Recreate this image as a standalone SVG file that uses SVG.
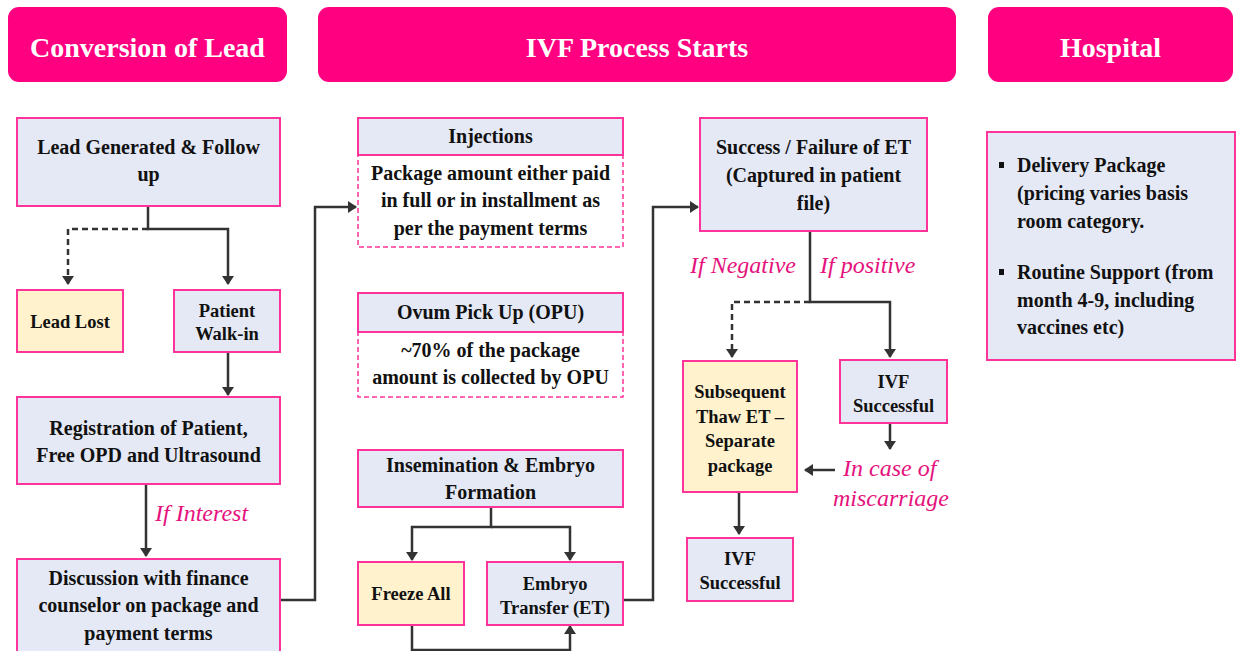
<svg xmlns="http://www.w3.org/2000/svg" width="1236" height="651" viewBox="0 0 1236 651">
<defs>
<marker id="ah" viewBox="0 0 9 12" markerWidth="9" markerHeight="12" refX="8" refY="6" orient="auto" markerUnits="userSpaceOnUse">
<path d="M0,0 L9,6 L0,12 z" fill="#333"/>
</marker>
</defs>
<rect width="1236" height="651" fill="#fff"/>

<g id="headers" fill="#FF0080">
<g id="hdr-conversion">
<rect x="8" y="7" width="279" height="75" rx="11"/>
<text style="font-family:'Liberation Serif','Times New Roman',serif" font-weight="bold" font-size="28" text-anchor="middle" fill="#fff" x="147.5" y="57">Conversion of Lead</text>
</g>
<g id="hdr-ivf">
<rect x="318" y="7" width="638" height="75" rx="11"/>
<text style="font-family:'Liberation Serif','Times New Roman',serif" font-weight="bold" font-size="28" text-anchor="middle" fill="#fff" x="637" y="57">IVF Process Starts</text>
</g>
<g id="hdr-hospital">
<rect x="988" y="7" width="245" height="75" rx="11"/>
<text style="font-family:'Liberation Serif','Times New Roman',serif" font-weight="bold" font-size="28" text-anchor="middle" fill="#fff" x="1110.5" y="57">Hospital</text>
</g>
</g>

<g id="connectors" fill="none" stroke="#333" stroke-width="2.5">
<path d="M148,206 V229 H228 V284" marker-end="url(#ah)"/>
<path d="M148,229 H68 V284" stroke-dasharray="6 4" marker-end="url(#ah)"/>
<path d="M228,352 V395" marker-end="url(#ah)"/>
<path d="M146,484 V556" marker-end="url(#ah)"/>
<path d="M280,600 H315 V207 H356" marker-end="url(#ah)"/>
<path d="M491,507 V527 H412 V560" marker-end="url(#ah)"/>
<path d="M491,527 H570 V560" marker-end="url(#ah)"/>
<path d="M412,625 V650 H570 V626" marker-end="url(#ah)"/>
<path d="M623,600 H653 V207 H698" marker-end="url(#ah)"/>
<path d="M810,231 V302 H890 V357" marker-end="url(#ah)"/>
<path d="M810,302 H732 V357" stroke-dasharray="6 4" marker-end="url(#ah)"/>
<path d="M890,423 V449" marker-end="url(#ah)"/>
<path d="M835,470 H805" marker-end="url(#ah)"/>
<path d="M739,492 V534" marker-end="url(#ah)"/>
</g>

<g id="labels" fill="#E5127D" font-style="italic" font-size="24">
<text style="font-family:'Liberation Serif','Times New Roman',serif" x="155" y="521">If Interest</text>
<text style="font-family:'Liberation Serif','Times New Roman',serif" x="690" y="273">If Negative</text>
<text style="font-family:'Liberation Serif','Times New Roman',serif" x="820" y="273">If positive</text>
<text style="font-family:'Liberation Serif','Times New Roman',serif" x="843" y="476">In case of</text>
<text style="font-family:'Liberation Serif','Times New Roman',serif" x="833" y="506">miscarriage</text>
</g>

<g id="nodes" stroke-width="2" font-weight="bold" text-anchor="middle">
<g id="lead-generated" font-size="20">
<rect x="17" y="118" width="263" height="88" fill="#E5E9F6" stroke="#FF3399"/>
<text style="font-family:'Liberation Serif','Times New Roman',serif" fill="#111" x="148.5" y="154">Lead Generated &amp; Follow</text>
<text style="font-family:'Liberation Serif','Times New Roman',serif" fill="#111" x="148.5" y="181">up</text>
</g>
<g id="lead-lost" font-size="18.5">
<rect x="17" y="290" width="106" height="62" fill="#FFF2CC" stroke="#FF3399"/>
<text style="font-family:'Liberation Serif','Times New Roman',serif" fill="#111" x="70" y="328">Lead Lost</text>
</g>
<g id="patient-walkin" font-size="18.5">
<rect x="174" y="290" width="106" height="62" fill="#E5E9F6" stroke="#FF3399"/>
<text style="font-family:'Liberation Serif','Times New Roman',serif" fill="#111" x="227" y="316.5">Patient</text>
<text style="font-family:'Liberation Serif','Times New Roman',serif" fill="#111" x="227" y="339.5">Walk-in</text>
</g>
<g id="registration" font-size="20">
<rect x="17" y="397" width="263" height="87" fill="#E5E9F6" stroke="#FF3399"/>
<text style="font-family:'Liberation Serif','Times New Roman',serif" fill="#111" x="148.5" y="435">Registration of Patient,</text>
<text style="font-family:'Liberation Serif','Times New Roman',serif" fill="#111" x="148.5" y="462">Free OPD and Ultrasound</text>
</g>
<g id="discussion" font-size="20">
<rect x="17" y="559" width="263" height="110" fill="#E5E9F6" stroke="#FF3399"/>
<text style="font-family:'Liberation Serif','Times New Roman',serif" fill="#111" x="148.5" y="585">Discussion with finance</text>
<text style="font-family:'Liberation Serif','Times New Roman',serif" fill="#111" x="148.5" y="612">counselor on package and</text>
<text style="font-family:'Liberation Serif','Times New Roman',serif" fill="#111" x="148.5" y="640">payment terms</text>
</g>

<g id="injections" font-size="20">
<rect x="358" y="155" width="265" height="92" fill="#fff" stroke="#FF3399" stroke-width="1.5" stroke-dasharray="5 3"/>
<rect x="358" y="118" width="265" height="37" fill="#E5E9F6" stroke="#FF3399"/>
<text style="font-family:'Liberation Serif','Times New Roman',serif" fill="#111" x="490.5" y="143">Injections</text>
<text style="font-family:'Liberation Serif','Times New Roman',serif" fill="#111" x="490.5" y="180">Package amount either paid</text>
<text style="font-family:'Liberation Serif','Times New Roman',serif" fill="#111" x="490.5" y="207">in full or in installment as</text>
<text style="font-family:'Liberation Serif','Times New Roman',serif" fill="#111" x="490.5" y="235">per the payment terms</text>
</g>
<g id="opu" font-size="20">
<rect x="358" y="332" width="265" height="65" fill="#fff" stroke="#FF3399" stroke-width="1.5" stroke-dasharray="5 3"/>
<rect x="358" y="293" width="265" height="39" fill="#E5E9F6" stroke="#FF3399"/>
<text style="font-family:'Liberation Serif','Times New Roman',serif" fill="#111" x="490.5" y="319">Ovum Pick Up (OPU)</text>
<text style="font-family:'Liberation Serif','Times New Roman',serif" fill="#111" x="490.5" y="357">~70% of the package</text>
<text style="font-family:'Liberation Serif','Times New Roman',serif" fill="#111" x="490.5" y="384">amount is collected by OPU</text>
</g>
<g id="insemination" font-size="20">
<rect x="358" y="450" width="265" height="57" fill="#E5E9F6" stroke="#FF3399"/>
<text style="font-family:'Liberation Serif','Times New Roman',serif" fill="#111" x="490.5" y="472">Insemination &amp; Embryo</text>
<text style="font-family:'Liberation Serif','Times New Roman',serif" fill="#111" x="490.5" y="499">Formation</text>
</g>
<g id="freeze-all" font-size="18.5">
<rect x="358" y="562" width="106" height="63" fill="#FFF2CC" stroke="#FF3399"/>
<text style="font-family:'Liberation Serif','Times New Roman',serif" fill="#111" x="411" y="599.5">Freeze All</text>
</g>
<g id="embryo-transfer" font-size="18.5">
<rect x="487" y="562" width="136" height="63" fill="#E5E9F6" stroke="#FF3399"/>
<text style="font-family:'Liberation Serif','Times New Roman',serif" fill="#111" x="555" y="589.5">Embryo</text>
<text style="font-family:'Liberation Serif','Times New Roman',serif" fill="#111" x="555" y="613.5">Transfer (ET)</text>
</g>

<g id="success-failure" font-size="20">
<rect x="700" y="118" width="227" height="113" fill="#E5E9F6" stroke="#FF3399"/>
<text style="font-family:'Liberation Serif','Times New Roman',serif" fill="#111" x="813.5" y="154">Success / Failure of ET</text>
<text style="font-family:'Liberation Serif','Times New Roman',serif" fill="#111" x="813.5" y="182">(Captured in patient</text>
<text style="font-family:'Liberation Serif','Times New Roman',serif" fill="#111" x="813.5" y="210">file)</text>
</g>
<g id="subsequent-thaw" font-size="18.5">
<rect x="683" y="361" width="114" height="131" fill="#FFF2CC" stroke="#FF3399"/>
<text style="font-family:'Liberation Serif','Times New Roman',serif" fill="#111" x="740" y="397.5">Subsequent</text>
<text style="font-family:'Liberation Serif','Times New Roman',serif" fill="#111" x="740" y="422.5">Thaw ET &#8211;</text>
<text style="font-family:'Liberation Serif','Times New Roman',serif" fill="#111" x="740" y="446.5">Separate</text>
<text style="font-family:'Liberation Serif','Times New Roman',serif" fill="#111" x="740" y="471.5">package</text>
</g>
<g id="ivf-successful-1" font-size="18.5">
<rect x="840" y="360" width="107" height="63" fill="#E5E9F6" stroke="#FF3399"/>
<text style="font-family:'Liberation Serif','Times New Roman',serif" fill="#111" x="893.5" y="387.5">IVF</text>
<text style="font-family:'Liberation Serif','Times New Roman',serif" fill="#111" x="893.5" y="411.5">Successful</text>
</g>
<g id="ivf-successful-2" font-size="18.5">
<rect x="687" y="538" width="106" height="63" fill="#E5E9F6" stroke="#FF3399"/>
<text style="font-family:'Liberation Serif','Times New Roman',serif" fill="#111" x="740" y="564.5">IVF</text>
<text style="font-family:'Liberation Serif','Times New Roman',serif" fill="#111" x="740" y="588.5">Successful</text>
</g>

<g id="hospital" font-size="20" text-anchor="start">
<rect x="987" y="132" width="248" height="228" fill="#E5E9F6" stroke="#FF3399"/>
<rect x="999" y="162" width="5" height="6" fill="#111" stroke="none"/>
<rect x="999" y="269" width="5" height="6" fill="#111" stroke="none"/>
<text style="font-family:'Liberation Serif','Times New Roman',serif" fill="#111" x="1017" y="172">Delivery Package</text>
<text style="font-family:'Liberation Serif','Times New Roman',serif" fill="#111" x="1017" y="200">(pricing varies basis</text>
<text style="font-family:'Liberation Serif','Times New Roman',serif" fill="#111" x="1017" y="228">room category.</text>
<text style="font-family:'Liberation Serif','Times New Roman',serif" fill="#111" x="1017" y="279">Routine Support (from</text>
<text style="font-family:'Liberation Serif','Times New Roman',serif" fill="#111" x="1017" y="307">month 4-9, including</text>
<text style="font-family:'Liberation Serif','Times New Roman',serif" fill="#111" x="1017" y="334">vaccines etc)</text>
</g>
</g>
</svg>
